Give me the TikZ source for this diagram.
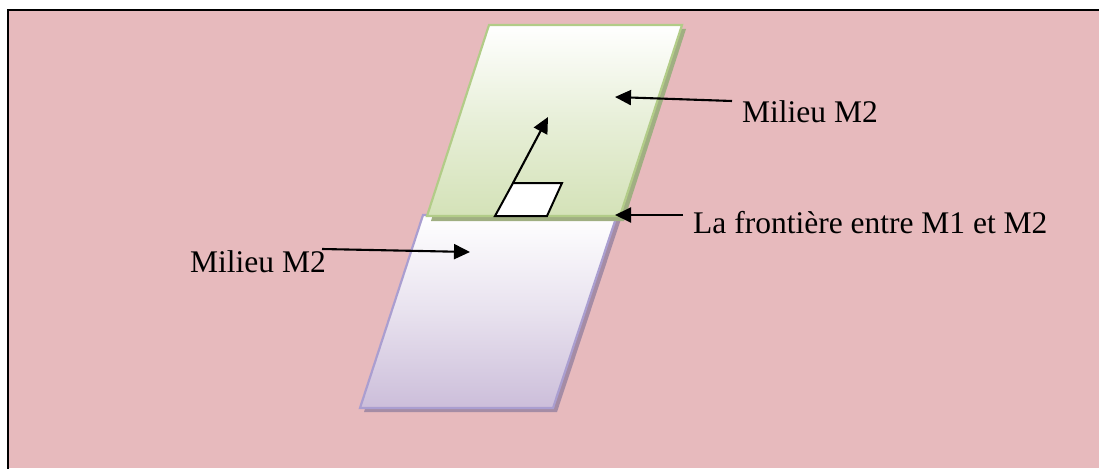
\documentclass[tikz,border=0pt]{standalone}
\usepackage{fontspec}
\setmainfont{Liberation Serif}
\usetikzlibrary{arrows.meta}
\definecolor{bgpink}{RGB}{231,186,189}
\definecolor{greenfill}{RGB}{212,226,184}
\definecolor{greenline}{RGB}{178,204,136}
\definecolor{greenshadow}{RGB}{160,175,130}
\definecolor{lavfill}{RGB}{204,190,218}
\definecolor{lavline}{RGB}{170,158,208}
\definecolor{lavshadow}{RGB}{165,140,165}
\tikzset{
  label text/.style={font=\fontsize{31.5}{36}\selectfont, inner sep=0pt, anchor=base west},
  pointer/.style={line width=2.1pt, -{Triangle[length=16pt,width=15pt]}},
}
\begin{document}
\begin{tikzpicture}[x=1pt,y=-1pt]
\useasboundingbox (0,0) rectangle (1099,468);
% background and frame
\fill[white] (0,0) rectangle (1099,468);
\fill[bgpink] (8,10) rectangle (1099,468);
\draw[line width=2.2pt] (1105,10) -- (8,10) -- (8,475);
% lower medium (lavender)
\fill[lavshadow] (427,219) -- (621,219) -- (557,412) -- (364,412) -- cycle;
\shade[top color=white, bottom color=lavfill, middle color=white!55!lavfill] (423,215) -- (617,215) -- (553,408) -- (360,408) -- cycle;
\draw[lavline, line width=2.2pt] (423,215) -- (617,215) -- (553,408) -- (360,408) -- cycle;
% upper medium (green)
\fill[greenshadow] (493,29) -- (686,29) -- (624,221) -- (431,221) -- cycle;
\shade[top color=white, bottom color=greenfill, middle color=white!45!greenfill] (489,25) -- (682,25) -- (620,216) -- (427,216) -- cycle;
\draw[greenline, line width=2.2pt] (489,25) -- (682,25) -- (620,216) -- (427,216) -- cycle;
% small surface element
\draw[fill=white, line width=2pt] (495,216) -- (547,216) -- (562,183) -- (513,183) -- cycle;
\coordinate (elem) at (513,183);
\coordinate (normaltip) at (548,117);
\draw[pointer] (elem) -- (normaltip);
% labels
\node[label text] (m2top) at (742,123) {Milieu M2};
\node[label text] (front) at (693,233) {La frontière entre M1 et M2};
\node[label text] (m2low) at (190,272) {Milieu M2};
\coordinate (m2topstart) at (732,101);
\coordinate (m2toptip) at (615,97);
\coordinate (frontstart) at (683,215);
\coordinate (fronttip) at (615,215);
\coordinate (m2lowstart) at (322,249);
\coordinate (m2lowtip) at (470,252);
\draw[pointer] (m2topstart) -- (m2toptip);
\draw[pointer] (frontstart) -- (fronttip);
\draw[pointer] (m2lowstart) -- (m2lowtip);
\end{tikzpicture}
\end{document}
